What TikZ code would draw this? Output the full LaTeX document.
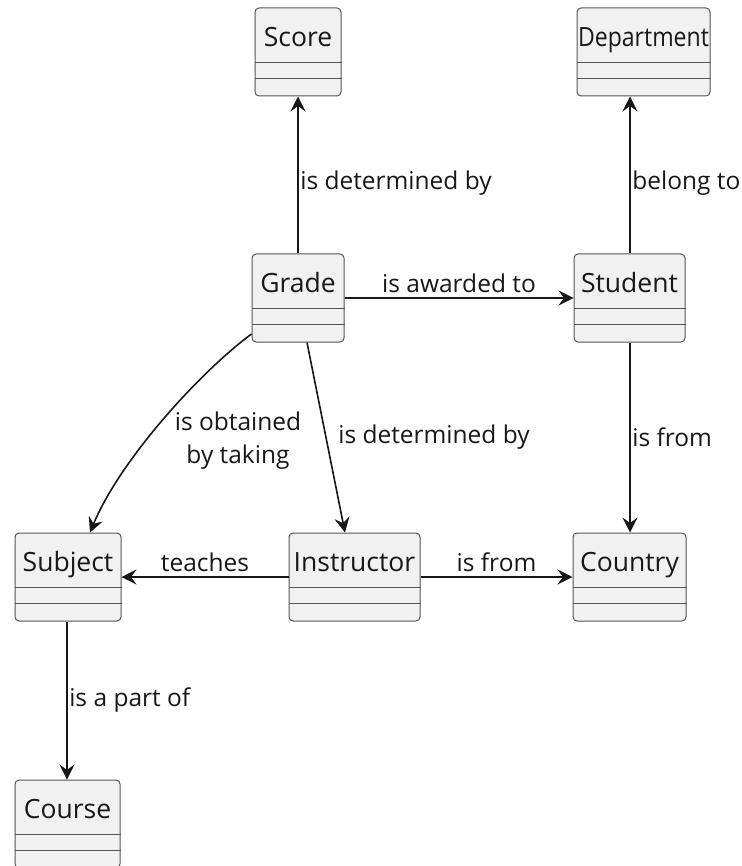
\documentclass[tikz,border=0pt]{standalone}
\usepackage{fontspec}
\setmainfont{Open Sans}
\usetikzlibrary{arrows.meta}
\definecolor{boxfill}{HTML}{F1F1F1}
\definecolor{ink}{HTML}{181818}
\definecolor{boxline}{HTML}{555555}
\tikzset{
  cls/.style={draw=boxline, fill=boxfill, line width=1pt, rounded corners=4pt, minimum height=88pt, inner sep=0pt},
  clstext/.style={anchor=base, font=\fontsize{26.5}{30}\selectfont, text=ink, inner sep=0pt},
  sepline/.style={draw=boxline, line width=1pt},
  arr/.style={draw=ink, line width=1.6pt, -{Stealth[length=15pt, width=15pt, inset=5.5pt]}},
  lbl/.style={font=\fontsize{24.5}{33}\selectfont, text=ink, inner sep=1.5pt, align=center},
}
\newcommand\umlclass[5]{%
  \node[cls, minimum width=#4pt] (#1) at (#2,#3) {};
  \node[clstext] (#1-t) at ([yshift=-39pt]#1.north) {#5};
  \draw[sepline] ([yshift=-55pt]#1.north west) -- ([yshift=-55pt]#1.north east);
  \draw[sepline] ([yshift=-71pt]#1.north west) -- ([yshift=-71pt]#1.north east);
}
\begin{document}
\begin{tikzpicture}[x=1pt, y=-1pt]
\useasboundingbox (0,0) rectangle (741,866);
\umlclass{score}{298}{52}{86}{Score}
\umlclass{department}{643.5}{52}{133}{\scalebox{0.87}[1]{Department}}
\umlclass{grade}{298}{298}{92}{Grade}
\umlclass{student}{629.5}{298}{111}{Student}
\umlclass{subject}{68}{577}{106}{Subject}
\umlclass{instructor}{354.5}{577}{131}{Instructor}
\umlclass{country}{629.5}{577}{113}{Country}
\umlclass{course}{67.5}{824}{105}{Course}

\draw[arr] (grade.north) -- node[lbl, anchor=west, pos=0.45] {is determined by} (score.south);
\draw[arr] ([xshift=0.5pt]student.north) -- node[lbl, anchor=west, pos=0.45] {belong to} ([xshift=0.5pt]student.north |- department.south);
\draw[arr] (grade.east) -- node[lbl, anchor=south, pos=0.5, yshift=3pt] {is awarded to} (student.west);
\draw[arr] ([xshift=0.5pt]student.south) -- node[lbl, anchor=west, pos=0.5] {is from} ([xshift=0.5pt]student.south |- country.north);
\draw[arr] ([yshift=-36pt]grade.west) .. controls (200,372) and (120,460) .. ([xshift=22pt]subject.north);
\node[lbl] (obtained) at (238,441) {is obtained\\by taking};
\draw[arr] ([xshift=9pt]grade.south) -- node[lbl, anchor=west, pos=0.5, xshift=10pt] {is determined by} ([xshift=-9.5pt]instructor.north);
\draw[arr] (instructor.west) -- node[lbl, anchor=south, pos=0.5, yshift=3pt] {teaches} (subject.east);
\draw[arr] (instructor.east) -- node[lbl, anchor=south, pos=0.5, yshift=3pt] {is from} (country.west);
\draw[arr] ([xshift=-1pt]subject.south) -- node[lbl, anchor=west, pos=0.5] {is a part of} ([xshift=-0.5pt]course.north);
\end{tikzpicture}
\end{document}
